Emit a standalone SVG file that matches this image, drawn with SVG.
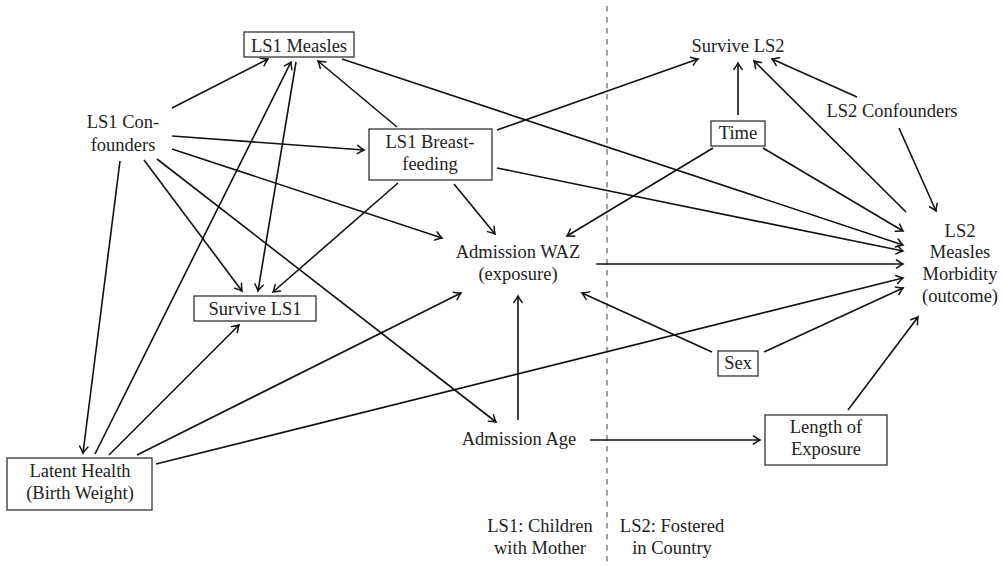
<svg xmlns="http://www.w3.org/2000/svg" width="1003" height="566" viewBox="0 0 1003 566">
<defs>
<marker id="ah" viewBox="-8 -6 10 12" markerWidth="10" markerHeight="12" refX="0" refY="0" orient="auto" markerUnits="userSpaceOnUse">
<path d="M-6.5,-4.2 Q-2.5,-1.2 0,0 Q-2.5,1.2 -6.5,4.2" fill="none" stroke="#111" stroke-width="1.5" stroke-linecap="round"/>
</marker>
<style>
text{fill:#222;text-anchor:middle;font-family:"Liberation Serif",serif;font-size:18.5px}
rect{fill:#fff;stroke:#333;stroke-width:1.3}
.e line{stroke:#111;stroke-width:1.6;marker-end:url(#ah)}
.div{stroke:#888;stroke-width:1.6;stroke-dasharray:5.5 5.5}
</style>
</defs>
<rect x="0" y="0" width="1003" height="566" style="fill:#fff;stroke:none"/>
<line class="div" x1="607" y1="6" x2="607" y2="566"/>
<g class="e" id="connectors">
<line x1="172" y1="108" x2="268" y2="59"/>
<line x1="397" y1="127" x2="318" y2="61"/>
<line x1="342" y1="59" x2="903" y2="245"/>
<line x1="906" y1="212" x2="754" y2="61"/>
<line x1="857" y1="97" x2="772" y2="59"/>
<line x1="899" y1="128" x2="936" y2="211"/>
<line x1="738" y1="115" x2="738" y2="63"/>
<line x1="713" y1="148" x2="567" y2="236"/>
<line x1="763" y1="148" x2="903" y2="231"/>
<line x1="497" y1="130" x2="698" y2="59"/>
<line x1="497" y1="168" x2="903" y2="251"/>
<line x1="596" y1="264" x2="903" y2="264"/>
<line x1="172" y1="136" x2="364" y2="150"/>
<line x1="172" y1="149" x2="442" y2="238"/>
<line x1="144" y1="160" x2="242" y2="291"/>
<line x1="157" y1="159" x2="496" y2="422"/>
<line x1="120" y1="161" x2="83" y2="453"/>
<line x1="95" y1="454" x2="291" y2="62"/>
<line x1="296" y1="62" x2="258" y2="291"/>
<line x1="398" y1="183" x2="273" y2="292"/>
<line x1="454" y1="184" x2="495" y2="234"/>
<line x1="109" y1="455" x2="239" y2="325"/>
<line x1="137" y1="455" x2="461" y2="293"/>
<line x1="156" y1="464" x2="903" y2="278"/>
<line x1="518" y1="420" x2="518" y2="296"/>
<line x1="590" y1="440" x2="760" y2="440"/>
<line x1="712" y1="352" x2="582" y2="293"/>
<line x1="764" y1="352" x2="903" y2="288"/>
<line x1="848" y1="410" x2="918" y2="317"/>
</g>
<g id="ls1measles"><rect x="244" y="32" width="110" height="25"/><text x="299" y="52">LS1 Measles</text></g>
<g id="ls1conf"><text x="123" y="128">LS1 Con-</text><text x="123" y="150.5">founders</text></g>
<g id="ls1bf"><rect x="369" y="129" width="123" height="51"/><text x="430" y="148">LS1 Breast-</text><text x="430" y="169.5">feeding</text></g>
<g id="survivels1"><rect x="194" y="296" width="122" height="25"/><text x="255" y="315">Survive LS1</text></g>
<g id="latent"><rect x="7" y="458" width="145" height="52"/><text x="80" y="477">Latent Health</text><text x="80" y="498.5">(Birth Weight)</text></g>
<g id="waz"><text x="518" y="258">Admission WAZ</text><text x="518" y="280">(exposure)</text></g>
<g id="age"><text x="519" y="445">Admission Age</text></g>
<g id="survivels2"><text x="738" y="52">Survive LS2</text></g>
<g id="time"><rect x="711" y="121" width="54" height="25"/><text x="738" y="139">Time</text></g>
<g id="ls2conf"><text x="892" y="117">LS2 Confounders</text></g>
<g id="outcome"><text x="960" y="236.5">LS2</text><text x="960" y="258">Measles</text><text x="960" y="280">Morbidity</text><text x="960" y="302">(outcome)</text></g>
<g id="sex"><rect x="718" y="351" width="40" height="25"/><text x="738" y="369">Sex</text></g>
<g id="length"><rect x="765" y="415" width="122" height="50"/><text x="826" y="433">Length of</text><text x="826" y="455">Exposure</text></g>
<g id="labels"><text x="540" y="532">LS1: Children</text><text x="540" y="554">with Mother</text><text x="672" y="532">LS2: Fostered</text><text x="672" y="554">in Country</text></g>
</svg>
